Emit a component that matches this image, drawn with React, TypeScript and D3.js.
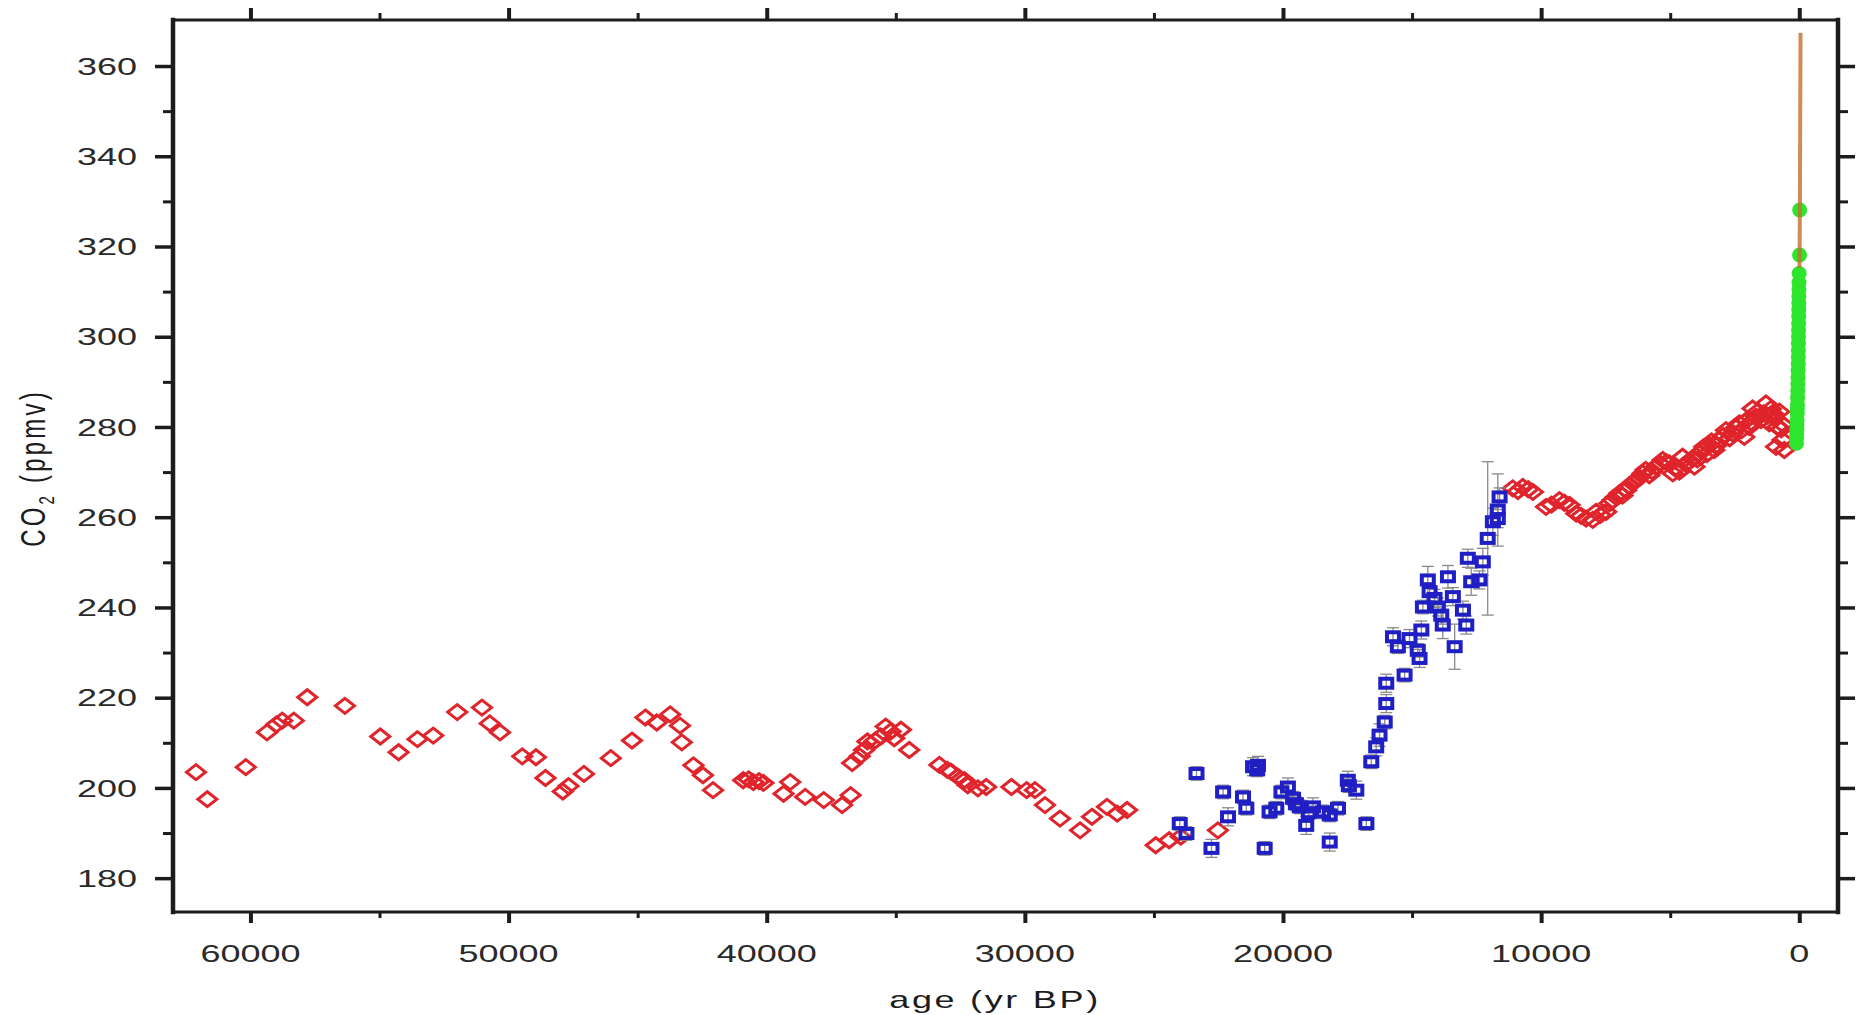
import React, { useRef, useEffect } from 'react';
import * as d3 from 'd3';

const WIDTH = 1870;
const HEIGHT = 1015;

// long ice core record (red diamonds)
const iceAge = [
  62110, 61670, 60180, 59360, 58990, 58770, 58320, 57800, 56340, 54970, 54260, 53530, 52920, 51990,
  51030, 50730, 50330, 49470, 48940, 48570, 47900, 47680, 47080, 46040, 45220, 44700, 44260, 43740,
  43360, 43290, 42840, 42470, 42080, 40910, 40700, 40520, 40300, 40130, 39350, 39090, 38510, 37790,
  37080, 36750, 36690, 36400, 36230, 36100, 35800, 35580, 35390, 35200, 35060, 34800, 34480, 33310,
  33000, 32860, 32600, 32340, 32210, 31820, 31500, 30520, 29930, 29610, 29220, 28640, 27860, 27400,
  26820, 26420, 26040, 24930, 24410, 23960, 22520,
  11100, 10900, 10710, 10500, 10320, 9810, 9600, 9290, 9100, 8900, 8640, 8450, 8260, 8000, 7870,
  7700, 7480, 7350, 7230, 7100, 6970, 6850, 6710, 6600, 6450, 6320, 6200, 6070, 5950, 5810, 5700,
  5550, 5400, 5290, 5150, 5030, 4900, 4780, 4650, 4520, 4400, 4260, 4150, 4060, 3950, 3870, 3760,
  3680, 3580, 3480, 3400, 3290, 3200, 3100, 2950, 2840, 2700, 2580, 2450, 2320, 2230, 2130, 2040,
  1940, 1870, 1810, 1680, 1600, 1480, 1380, 1290, 1220, 1160, 1100, 1030, 960, 900, 840, 770, 700,
  650, 620, 580,
];
const iceCo2 = [
  203.5, 197.5, 204.6, 212.3, 214.1, 214.9, 214.9, 220.1, 218.2, 211.4, 207.9, 210.8, 211.6, 216.8,
  217.8, 214.3, 212.3, 207.0, 206.8, 202.2, 199.2, 200.4, 203.1, 206.6, 210.5, 215.6, 214.5, 216.3,
  213.8, 210.1, 205.0, 202.8, 199.5, 201.7, 201.9, 201.3, 201.5, 201.1, 198.7, 201.3, 198.0, 197.3,
  196.2, 198.4, 205.5, 207.0, 208.4, 210.3, 210.5, 211.4, 213.6, 212.5, 211.0, 212.9, 208.4, 205.1,
  204.0, 203.6, 202.5, 201.7, 200.6, 199.9, 200.2, 200.2, 199.5, 199.5, 196.2, 193.2, 190.6, 193.6,
  195.8, 194.3, 195.1, 187.3, 188.4, 189.2, 190.6,
  266.4, 265.8, 266.7, 266.2, 265.6, 262.3, 262.8, 263.8, 263.2, 262.7, 260.8, 260.3, 259.7, 259.4,
  261.2, 260.5, 261.2, 263.1, 263.8, 264.5, 265.3, 264.8, 266.0, 267.0, 267.5, 268.2, 268.8, 269.7,
  270.5, 269.3, 270.2, 271.2, 271.9, 272.7, 272.2, 271.9, 269.7, 271.0, 270.1, 273.4, 271.8, 272.3,
  273.0, 271.2, 272.8, 274.1, 274.8, 275.6, 274.0, 276.0, 276.8, 274.9, 276.0, 277.1, 278.0, 279.3,
  277.5, 278.6, 279.8, 280.8, 279.3, 277.8, 281.5, 280.0, 281.0, 284.1, 282.3, 283.5, 281.5, 283.0,
  285.2, 282.5, 280.8, 284.0, 283.0, 282.0, 275.6, 280.0, 283.4, 279.5, 277.1, 280.5, 274.9,
];

// deglacial record with error bars (blue squares)
const deglAge = [
  24000, 23740, 23350, 22770, 22320, 22130, 21550, 21420, 21160, 21000, 20970, 20710, 20520, 20260,
  20060, 19810, 19610, 19500, 19350, 19100, 19000, 18840, 18450, 18190, 18190, 17870, 17490, 17450,
  17160, 16770, 16580, 16390, 16260, 16060, 16000, 16000, 15740, 15550, 15290, 15100, 14780, 14710,
  14640, 14580, 14390, 14320, 14130, 14000, 13870, 13810, 13610, 13420, 13350, 13030, 12900, 12840,
  12710, 12390, 12260, 12070, 11870, 11680, 11610, 11680,
];
const deglCo2 = [
  192.1, 189.9, 203.2, 186.6, 199.1, 193.6, 198.0, 195.5, 204.7, 204.0, 205.0, 186.6, 194.7, 195.5,
  199.1, 200.2, 197.7, 196.5, 195.8, 191.7, 194.5, 195.8, 194.7, 194.0, 188.0, 195.5, 201.7, 200.5,
  199.5, 192.1, 205.8, 209.1, 211.7, 214.6, 218.7, 223.2, 233.5, 231.3, 225.0, 233.1, 230.5, 228.7,
  235.0, 240.1, 246.1, 243.5, 242.0, 240.1, 238.3, 236.1, 246.8, 242.4, 231.3, 239.4, 236.1, 250.9,
  245.7, 246.1, 250.1, 255.3, 259.0, 261.6, 264.5, 259.7,
];
const deglErr = [
  1.5, 1.5, 1.5, 2, 1.5, 2, 1.5, 1.5, 2, 1.5, 2, 1.5, 1.5, 1.5,
  1.5, 2, 1.5, 1.5, 1.5, 2, 1.5, 2, 1.5, 1.5, 2, 1.5, 2, 1.5,
  2, 1.5, 1.5, 2, 2.5, 1.5, 2, 2, 2, 1.5, 1.5, 2, 1.5, 2,
  2, 1.5, 3, 2, 2, 2, 2, 3, 2.5, 2, 5, 2, 2, 2,
  3, 2, 3, 17, 3, 8, 2, 2,
];

// firn / shallow core (green dots)
const firnAge = [
  110, 105, 100, 95, 90, 85, 80, 75, 70, 65, 60, 55, 50, 45, 40, 38, 35, 32, 30, 28, 25,
  22, 20, 18, 15, 12, 10, 5, -10, -15,
];
const firnCo2 = [
  276.4, 277.5, 278.5, 279.5, 280.5, 281.5, 283, 284, 285, 286.5, 288, 289.5, 291, 292.5, 294,
  295.5, 297, 298.5, 300, 301.5, 303, 304.5, 306, 307.5, 309, 310.5, 312, 314, 318.1, 328.1,
];

// direct atmospheric measurements (orange line)
const atmAge = [-8, -10, -15, -20, -25, -30, -35, -40, -45, -48];
const atmCo2 = [315.3, 316.9, 320.0, 325.7, 331.1, 338.7, 346.1, 354.4, 360.9, 367.4];

const yMajor = [180, 200, 220, 240, 260, 280, 300, 320, 340, 360];
const yMinor = [190, 210, 230, 250, 270, 290, 310, 330, 350];
const xMajor = [60000, 50000, 40000, 30000, 20000, 10000, 0];
const xMinor = [55000, 45000, 35000, 25000, 15000, 5000];

const App = () => {
  const svgRef = useRef<SVGSVGElement>(null);

  useEffect(() => {
    const svg = d3.select(svgRef.current);
    svg.selectAll('*').remove();

    const margin = { top: 20, right: 32, bottom: 103, left: 173 };
    const x = d3.scaleLinear().domain([63000, -1500]).range([margin.left, WIDTH - margin.right]);
    const y = d3.scaleLinear().domain([172.5, 370.2]).range([HEIGHT - margin.bottom, margin.top]);
    const [x0, x1] = x.range();
    const [y0, y1] = y.range();

    const font = "'Liberation Sans', Arial, sans-serif";
    const ink = '#1c1c1c';

    // ticks (outside the frame on all four sides)
    const tickAxis = (axis, tx, ty, width) => {
      const a = svg.append('g')
        .attr('transform', `translate(${tx},${ty})`)
        .call(axis.tickFormat(() => ''));
      a.select('.domain').remove();
      a.selectAll('line').attr('stroke', ink).attr('stroke-width', width);
    };
    tickAxis(d3.axisLeft(y).tickValues(yMajor).tickSize(18), x0, 0, 3.5);
    tickAxis(d3.axisLeft(y).tickValues(yMinor).tickSize(10), x0, 0, 3);
    tickAxis(d3.axisRight(y).tickValues(yMajor).tickSize(17), x1, 0, 3.5);
    tickAxis(d3.axisRight(y).tickValues(yMinor).tickSize(10), x1, 0, 3);
    tickAxis(d3.axisBottom(x).tickValues(xMajor).tickSize(11), 0, y0, 4);
    tickAxis(d3.axisBottom(x).tickValues(xMinor).tickSize(6), 0, y0, 3);
    tickAxis(d3.axisTop(x).tickValues(xMajor).tickSize(12), 0, y1, 4);
    tickAxis(d3.axisTop(x).tickValues(xMinor).tickSize(7), 0, y1, 3);

    // frame
    const frame = svg.append('g').attr('stroke', ink).attr('stroke-linecap', 'square');
    frame.append('line').attr('x1', x0).attr('x2', x1).attr('y1', y1).attr('y2', y1).attr('stroke-width', 3);
    frame.append('line').attr('x1', x0).attr('x2', x1).attr('y1', y0).attr('y2', y0).attr('stroke-width', 3);
    frame.append('line').attr('x1', x0).attr('x2', x0).attr('y1', y1).attr('y2', y0).attr('stroke-width', 4.5);
    frame.append('line').attr('x1', x1).attr('x2', x1).attr('y1', y1).attr('y2', y0).attr('stroke-width', 4.5);

    // tick labels (the source is stretched horizontally)
    svg.append('g').selectAll('text')
      .data(yMajor)
      .join('text')
      .attr('transform', d => `translate(137,${y(d)}) scale(1.5,1)`)
      .attr('dy', '0.36em')
      .attr('text-anchor', 'end')
      .attr('font-family', font)
      .attr('font-size', 24)
      .attr('fill', '#2a2a2a')
      .text(d => d);

    svg.append('g').selectAll('text')
      .data(xMajor)
      .join('text')
      .attr('transform', d => `translate(${x(d)},962) scale(1.5,1)`)
      .attr('text-anchor', 'middle')
      .attr('font-family', font)
      .attr('font-size', 24)
      .attr('fill', '#2a2a2a')
      .text(d => d);

    // axis titles
    svg.append('text')
      .attr('transform', 'translate(995,1008) scale(1.5,1)')
      .attr('text-anchor', 'middle')
      .attr('font-family', font)
      .attr('font-size', 24)
      .attr('letter-spacing', 1.8)
      .attr('fill', ink)
      .text('age (yr BP)');

    const yt = svg.append('text')
      .attr('transform', 'translate(32,468) scale(1.5,1) rotate(-90)')
      .attr('dy', '0.36em')
      .attr('text-anchor', 'middle')
      .attr('font-family', font)
      .attr('font-size', 24)
      .attr('letter-spacing', 3.2)
      .attr('fill', ink);
    yt.append('tspan').text('CO');
    yt.append('tspan').attr('font-size', 15).attr('dy', 6).text('2');
    yt.append('tspan').attr('dy', -6).text(' (ppmv)');

    // red diamonds
    svg.append('g').selectAll('path')
      .data(d3.zip(iceAge, iceCo2))
      .join('path')
      .attr('d', 'M0,-7.5L9.5,0L0,7.5L-9.5,0Z')
      .attr('transform', d => `translate(${x(d[0])},${y(d[1])})`)
      .attr('fill', 'none')
      .attr('stroke', '#e0242b')
      .attr('stroke-width', 3);

    // error bars
    const degl = d3.zip(deglAge, deglCo2, deglErr);
    const err = svg.append('g').attr('stroke', '#8a8a8a').attr('stroke-width', 1.3);
    err.selectAll('line.v')
      .data(degl)
      .join('line')
      .attr('class', 'v')
      .attr('x1', d => x(d[0])).attr('x2', d => x(d[0]))
      .attr('y1', d => y(d[1] - d[2])).attr('y2', d => y(d[1] + d[2]));
    err.selectAll('line.t')
      .data(degl)
      .join('line')
      .attr('class', 't')
      .attr('x1', d => x(d[0]) - 6).attr('x2', d => x(d[0]) + 6)
      .attr('y1', d => y(d[1] + d[2])).attr('y2', d => y(d[1] + d[2]));
    err.selectAll('line.b')
      .data(degl)
      .join('line')
      .attr('class', 'b')
      .attr('x1', d => x(d[0]) - 6).attr('x2', d => x(d[0]) + 6)
      .attr('y1', d => y(d[1] - d[2])).attr('y2', d => y(d[1] - d[2]));

    // blue squares
    svg.append('g').selectAll('rect')
      .data(degl)
      .join('rect')
      .attr('x', d => x(d[0]) - 6)
      .attr('y', d => y(d[1]) - 4.5)
      .attr('width', 12)
      .attr('height', 9)
      .attr('fill', 'none')
      .attr('stroke', '#1f1fc4')
      .attr('stroke-width', 4);

    // green dots
    svg.append('g').selectAll('circle')
      .data(d3.zip(firnAge, firnCo2))
      .join('circle')
      .attr('cx', d => x(d[0]))
      .attr('cy', d => y(d[1]))
      .attr('r', 7.5)
      .attr('fill', '#2ee52e');

    // orange line
    const line = d3.line<[number, number]>().x(d => x(d[0])).y(d => y(d[1]));
    svg.append('path')
      .datum(d3.zip(atmAge, atmCo2))
      .attr('d', line)
      .attr('fill', 'none')
      .attr('stroke', '#c46e2e')
      .attr('stroke-opacity', 0.8)
      .attr('stroke-width', 4);
  }, []);

  return (
    <svg
      ref={svgRef}
      width={WIDTH}
      height={HEIGHT}
      style={{ position: 'absolute', left: 0, top: 0, background: '#fff', display: 'block' }}
    />
  );
};

export default App;
